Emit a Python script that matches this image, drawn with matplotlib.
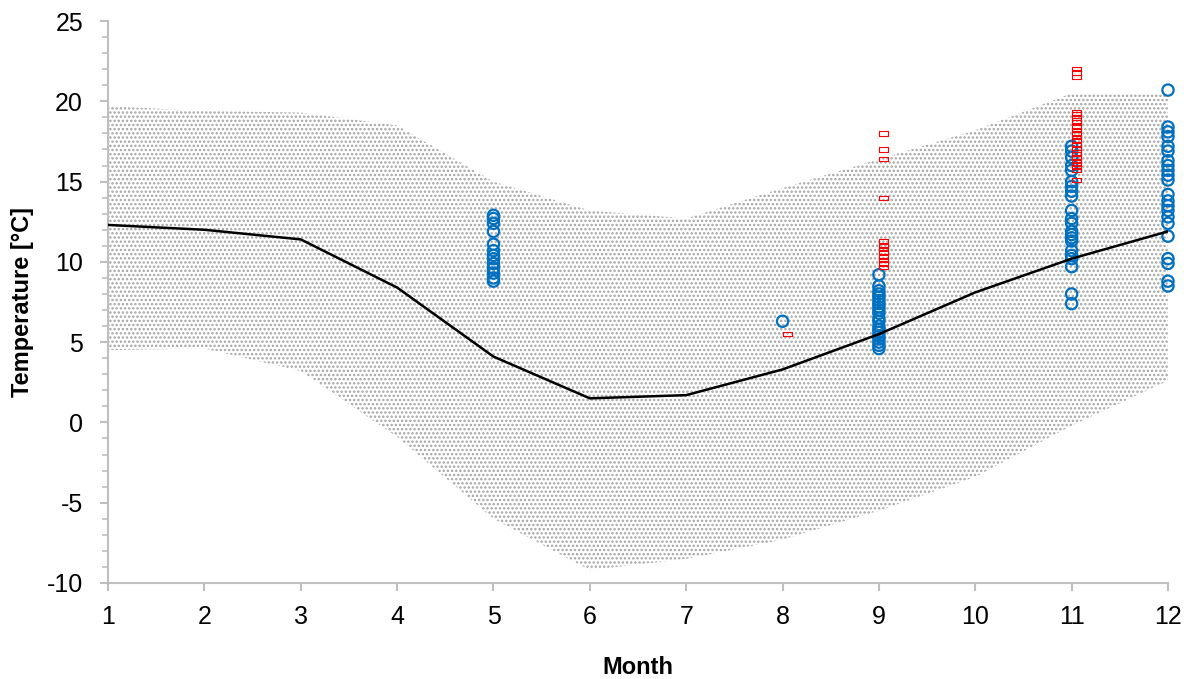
import numpy as np
import matplotlib
matplotlib.use("Agg")
import matplotlib.pyplot as plt
from matplotlib.ticker import MultipleLocator
from matplotlib.path import Path

plt.rcParams['font.family'] = ['Liberation Sans', 'DejaVu Sans']
plt.rcParams['axes.unicode_minus'] = False
plt.rcParams['hatch.linewidth'] = 1.15

# monthly climatology
months = [1, 2, 3, 4, 5, 6, 7, 8, 9, 10, 11, 12]
t_mean = [12.3, 12.0, 11.4, 8.4, 4.1, 1.5, 1.7, 3.3, 5.5, 8.1, 10.2, 11.9]
t_upper = [19.7, 19.4, 19.3, 18.5, 15.0, 13.2, 12.7, 14.6, 16.4, 18.2, 20.5, 20.5]
t_lower = [4.5, 4.6, 3.2, -0.9, -6.0, -9.2, -8.5, -7.3, -5.5, -3.4, -0.2, 2.6]

# observations (circles)
obs_month = [5] * 13 + [8] + [9] * 20 + [11] * 22 + [12] * 22
obs_temp = [12.9, 12.7, 12.4, 11.9, 11.1, 10.7, 10.4, 10.2, 9.9, 9.6, 9.3, 9.0, 8.8,
            6.3,
            9.2, 8.5, 8.2, 8.0, 7.8, 7.6, 7.4, 7.2, 7.0, 6.8, 6.5, 6.3, 6.0, 5.8,
            5.6, 5.4, 5.2, 5.0, 4.8, 4.6,
            17.2, 16.9, 16.5, 16.0, 15.7, 15.0, 14.7, 14.4, 14.1, 13.2, 12.7,
            12.4, 11.9, 11.7, 11.5, 11.3, 10.7, 10.4, 10.2, 9.7, 8.0, 7.4,
            20.7, 18.4, 18.1, 17.8, 17.2, 16.9, 16.3, 16.0, 15.7, 15.4, 15.1,
            14.2, 13.8, 13.5, 13.2, 12.8, 12.4, 11.6, 10.2, 9.9, 8.8, 8.5]

# model values (red rectangles)
mod_month = [8] + [9] * 12 + [11] * 23
mod_temp = [5.5,
            18.0, 17.0, 16.4, 14.0, 11.3, 11.0, 10.8, 10.6, 10.3, 10.1, 9.9, 9.7,
            22.0, 21.8, 21.5, 19.3, 19.2, 19.0, 18.8, 18.7, 18.4, 18.2, 18.0,
            17.8, 17.6, 17.3, 17.1, 17.0, 16.7, 16.5, 16.3, 16.1, 15.9, 15.7, 15.1]

fig = plt.figure(figsize=(11.9, 6.79), dpi=100)
ax = fig.add_axes([0.0908, 0.1414, 0.8907, 0.8276])

ax.fill_between(months, t_lower, t_upper, facecolor='none', edgecolor='#a3a3a3',
                hatch='....', linewidth=0, zorder=1)

ax.scatter(obs_month, obs_temp, s=66, facecolors='none', edgecolors='#0070C0',
           linewidths=1.6, zorder=3, clip_on=False)

rect = Path([(-1, -0.45), (1, -0.45), (1, 0.45), (-1, 0.45), (-1, -0.45)])
ax.scatter(np.array(mod_month) + 0.05, mod_temp, marker=rect, s=46,
           facecolors='none', edgecolors='#ff0000', linewidths=0.8, zorder=4,
           clip_on=False)

ax.plot(months, t_mean, color='black', linewidth=1.8, zorder=5)

ax.set_xlim(1, 12)
ax.set_ylim(-10, 25)
ax.set_xticks(months)
ax.yaxis.set_major_locator(MultipleLocator(5))
ax.yaxis.set_minor_locator(MultipleLocator(1))

for s in ['top', 'right']:
    ax.spines[s].set_visible(False)
for s in ['left', 'bottom']:
    ax.spines[s].set_color('#bfbfbf')
    ax.spines[s].set_linewidth(1.5)

ax.tick_params(axis='both', which='major', colors='#bfbfbf', width=1.5, length=6,
               labelcolor='black', labelsize=18)
ax.tick_params(axis='y', which='minor', colors='#bfbfbf', width=1.2, length=4)
ax.tick_params(axis='y', which='major', pad=12)
ax.tick_params(axis='x', which='major', pad=10)

ax.set_xlabel('Month', fontsize=17, fontweight='bold', labelpad=19)
ax.set_ylabel('Temperature [°C]', fontsize=17, fontweight='bold', labelpad=9)

fig.savefig('out.png', dpi=100)
